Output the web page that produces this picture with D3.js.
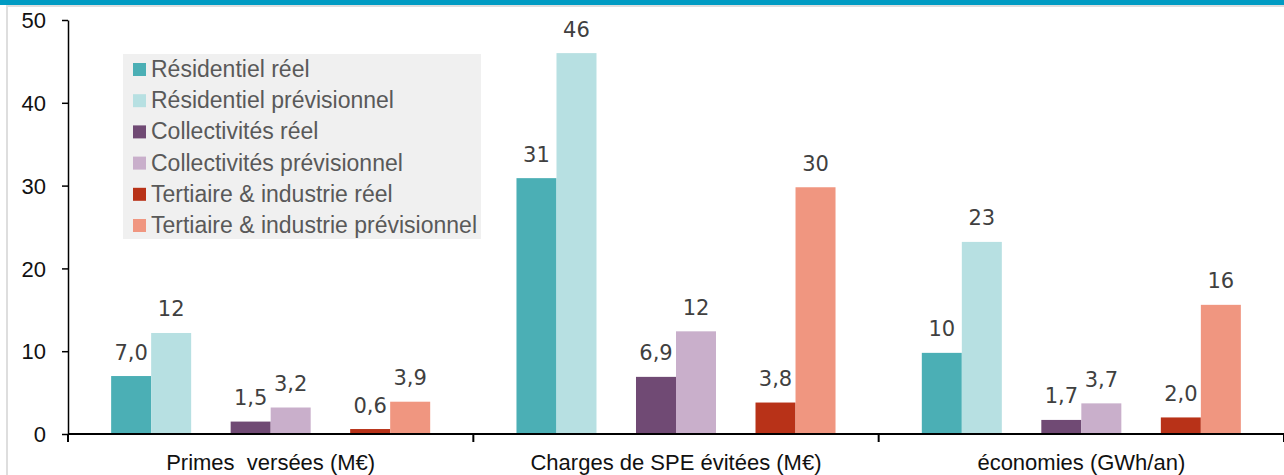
<!DOCTYPE html>
<html>
<head>
<meta charset="utf-8">
<script src="https://cdn.jsdelivr.net/npm/d3@7"></script>
<style>
  html, body { margin: 0; padding: 0; background: #fff; }
  svg { display: block; }
</style>
</head>
<body>
<svg id="chart" width="1284" height="475"></svg>
<script>
// ---- data ----
const categories = ["Primes  versées (M€)", "Charges de SPE évitées (M€)", "économies (GWh/an)"];
const segments = ["Résidentiel", "Collectivités", "Tertiaire & industrie"];
const kinds = ["réel", "prévisionnel"];
const seriesNames = ["Résidentiel réel", "Résidentiel prévisionnel", "Collectivités réel",
                     "Collectivités prévisionnel", "Tertiaire & industrie réel", "Tertiaire & industrie prévisionnel"];
const residentielReel = [7.0, 30.9, 9.8];
const residentielPrev = [12.2, 46.0, 23.2];
const collectivitesReel = [1.5, 6.9, 1.7];
const collectivitesPrev = [3.2, 12.4, 3.7];
const tertiaireReel = [0.6, 3.8, 2.0];
const tertiairePrev = [3.9, 29.8, 15.6];
const yTicks = [0, 10, 20, 30, 40, 50];
const colors = ["#4bafb5", "#b7e0e2", "#704a74", "#c9afcb", "#b83218", "#f09680"];

const seriesValues = [residentielReel, residentielPrev, collectivitesReel, collectivitesPrev, tertiaireReel, tertiairePrev];

// ---- layout ----
const svg = d3.select("#chart");
const W = 1284, H = 475;
const mLeft = 68, mRight = 1284, mTop = 20, mBottom = 434;

// frame decoration
svg.append("rect").attr("x", 0).attr("y", 0).attr("width", W).attr("height", 5).attr("fill", "#009bc3");
svg.append("rect").attr("x", 6).attr("y", 5).attr("width", W - 6).attr("height", 2).attr("fill", "#dedede");
svg.append("rect").attr("x", 6).attr("y", 5).attr("width", 2).attr("height", H - 5).attr("fill", "#dedede");

const y = d3.scaleLinear().domain([0, 50]).range([mBottom, mTop]);
const x0 = d3.scaleBand().domain(categories).range([mLeft, mRight]).padding(0);
const xSeg = d3.scaleBand().domain(segments).range([0, x0.bandwidth()]).paddingInner(0.3305).paddingOuter(0.361);
const xKind = d3.scaleBand().domain(kinds).range([0, xSeg.bandwidth()]);

const fmt = v => (v >= 9.5 ? String(Math.round(v)) : v.toFixed(1).replace(".", ","));

// flatten data
const bars = [];
categories.forEach((c, ci) => {
  seriesNames.forEach((s, si) => {
    bars.push({
      cat: c, seg: segments[Math.floor(si / 2)], kind: kinds[si % 2],
      value: seriesValues[si][ci], color: colors[si]
    });
  });
});

// bars
svg.append("g").selectAll("rect").data(bars).join("rect")
  .attr("x", d => x0(d.cat) + xSeg(d.seg) + xKind(d.kind))
  .attr("y", d => y(d.value))
  .attr("width", xKind.bandwidth())
  .attr("height", d => y(0) - y(d.value))
  .attr("fill", d => d.color);

// data labels
svg.append("g").selectAll("text").data(bars).join("text")
  .attr("x", d => x0(d.cat) + xSeg(d.seg) + xKind(d.kind) + xKind.bandwidth() / 2)
  .attr("y", d => y(d.value) - 16.5)
  .attr("text-anchor", "middle")
  .attr("font-family", "DejaVu Sans, sans-serif")
  .attr("font-size", 21)
  .attr("fill", "#404040")
  .text(d => fmt(d.value));

// y axis
const yAxis = svg.append("g").attr("transform", `translate(${mLeft},0)`)
  .call(d3.axisLeft(y).tickValues(yTicks).tickSize(6).tickPadding(16).tickSizeOuter(0).tickFormat(d3.format("d")));
yAxis.select(".domain").attr("stroke", "#000").attr("stroke-width", 1.5);
yAxis.selectAll(".tick line").attr("stroke", "#000").attr("stroke-width", 1.5);
yAxis.selectAll(".tick text")
  .attr("font-family", "Liberation Sans, Arial, sans-serif")
  .attr("font-size", 22).attr("fill", "#111").attr("dy", "0.35em");

// x axis line and boundary ticks
const xg = svg.append("g");
xg.append("line").attr("x1", mLeft).attr("x2", mRight).attr("y1", y(0)).attr("y2", y(0))
  .attr("stroke", "#000").attr("stroke-width", 2);
const bounds = categories.map(c => x0(c)).concat([x0.range()[1]]);
xg.selectAll("line.tick").data(bounds).join("line").attr("class", "tick")
  .attr("x1", d => d).attr("x2", d => d).attr("y1", y(0)).attr("y2", y(0) + 8)
  .attr("stroke", "#000").attr("stroke-width", 2);
xg.selectAll("text").data(categories).join("text")
  .attr("x", d => x0(d) + x0.bandwidth() / 2)
  .attr("y", 470)
  .attr("text-anchor", "middle")
  .style("white-space", "pre")
  .attr("font-family", "Liberation Sans, Arial, sans-serif")
  .attr("font-size", 22)
  .attr("fill", "#111")
  .text(d => d);

// legend
const lg = svg.append("g");
lg.append("rect").attr("x", 123).attr("y", 54).attr("width", 358).attr("height", 185).attr("fill", "#f0f0f0");
const items = lg.selectAll("g.item").data(seriesNames).join("g").attr("class", "item")
  .attr("transform", (d, i) => `translate(133,${69.5 + 31.2 * i})`);
items.append("rect").attr("x", 0).attr("y", -6.5).attr("width", 13).attr("height", 13)
  .attr("fill", (d, i) => colors[i]);
items.append("text").attr("x", 18).attr("y", 7.5)
  .attr("font-family", "Liberation Sans, Arial, sans-serif")
  .attr("font-size", 23).attr("fill", "#595959")
  .text(d => d);
</script>
</body>
</html>
